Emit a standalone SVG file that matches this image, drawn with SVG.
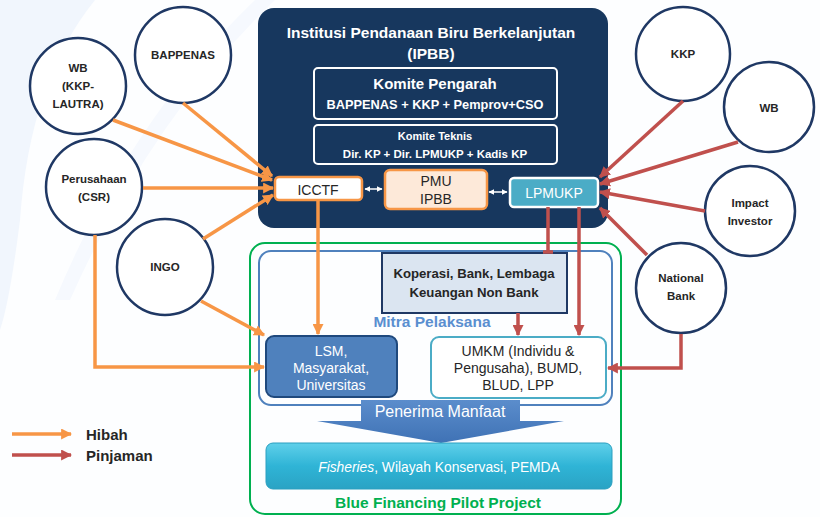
<svg xmlns="http://www.w3.org/2000/svg" width="820" height="517" viewBox="0 0 820 517">
<style>
text{font-family:"Liberation Sans","Noto Sans",Arial,sans-serif;text-anchor:middle}
.c{fill:#fff;stroke:#1f3864;stroke-width:2.5}
.ct{font-size:11.5px;font-weight:bold;fill:#262626}
.wt{fill:#fff;font-weight:bold}
.o{fill:none;stroke:#f79646;stroke-width:3.5}
.r{fill:none;stroke:#c0504d;stroke-width:3.5}
.dk{fill:#262626}
</style>
<defs>
<marker id="ao" viewBox="0 0 10 10" refX="9" refY="5" markerWidth="11" markerHeight="11" markerUnits="userSpaceOnUse" orient="auto"><path d="M0,0L10,5L0,10z" fill="#f79646"/></marker>
<marker id="ar" viewBox="0 0 10 10" refX="9" refY="5" markerWidth="11" markerHeight="11" markerUnits="userSpaceOnUse" orient="auto"><path d="M0,0L10,5L0,10z" fill="#c0504d"/></marker>
<marker id="aw" viewBox="0 0 10 10" refX="9" refY="5" markerWidth="6" markerHeight="6" markerUnits="userSpaceOnUse" orient="auto-start-reverse"><path d="M0,0L10,5L0,10z" fill="#fff"/></marker>
<linearGradient id="gf" x1="0" y1="0" x2="0" y2="1"><stop offset="0" stop-color="#5fd0ea"/><stop offset="0.5" stop-color="#2fb4d6"/><stop offset="1" stop-color="#2aa3c4"/></linearGradient>
<linearGradient id="gp" x1="0" y1="0" x2="0" y2="1"><stop offset="0" stop-color="#5b8dcc"/><stop offset="1" stop-color="#3f72b5"/></linearGradient>
</defs>
<rect width="820" height="517" fill="#fdfeff"/>
<path d="M0,0 L95,0 Q30,80 20,220 Q10,300 0,330 Z" fill="#f1f6fd"/>
<path d="M255,0 L275,0 Q150,120 70,300 L55,300 Q130,120 255,0Z" fill="#f6f9fe"/>

<g id="ipbb">
<rect x="258" y="8" width="350" height="220" rx="16" fill="#17375e"/>
<text x="431" y="38" class="wt" font-size="15.5">Institusi Pendanaan Biru Berkelanjutan</text>
<text x="431" y="59" class="wt" font-size="15.5">(IPBB)</text>
</g>
<g id="komite-pengarah">
<rect x="314" y="68" width="243" height="51" rx="4" fill="none" stroke="#fff" stroke-width="2"/>
<text x="435" y="89" class="wt" font-size="15">Komite Pengarah</text>
<text x="435" y="109" class="wt" font-size="12.8">BAPPENAS + KKP + Pemprov+CSO</text>
</g>
<g id="komite-teknis">
<rect x="314" y="125" width="243" height="39" rx="4" fill="none" stroke="#fff" stroke-width="2"/>
<text x="435" y="140" class="wt" font-size="11">Komite Teknis</text>
<text x="435" y="158" class="wt" font-size="11.5">Dir. KP + Dir. LPMUKP + Kadis KP</text>
</g>
<g id="icctf">
<rect x="275" y="177" width="87" height="23" rx="4" fill="#fff" stroke="#f79646" stroke-width="2.5"/>
<text x="318" y="195" class="dk" font-size="14">ICCTF</text>
</g>
<g id="pmu">
<rect x="385" y="170" width="102" height="39" rx="5" fill="#fde9d9" stroke="#f79646" stroke-width="2.5"/>
<text x="436" y="186" class="dk" font-size="14">PMU</text>
<text x="436" y="204" class="dk" font-size="14">IPBB</text>
</g>
<g id="lpmukp">
<rect x="510" y="178" width="88" height="29" rx="4" fill="#4bacc6" stroke="#fff" stroke-width="2.5"/>
<text x="554" y="198" fill="#fff" font-size="14">LPMUKP</text>
</g>

<g id="pilot">
<rect x="250" y="243" width="371" height="271" rx="15" fill="none" stroke="#00b050" stroke-width="2"/>
<text x="438" y="508" fill="#00b050" font-size="15.5" font-weight="bold">Blue Financing Pilot Project</text>
</g>
<g id="mitra">
<rect x="259" y="251" width="353" height="154" rx="12" fill="none" stroke="#4f81bd" stroke-width="2"/>
<text x="432" y="327" fill="#5a8fd0" font-size="15.5" font-weight="bold">Mitra Pelaksana</text>
</g>
<g id="koperasi">
<rect x="382" y="253" width="185" height="60" fill="#dbe5f1" stroke="#1f3864" stroke-width="2"/>
<text x="474" y="278" class="dk" font-size="13.2" font-weight="bold">Koperasi, Bank, Lembaga</text>
<text x="474" y="297" class="dk" font-size="13.2" font-weight="bold">Keuangan Non Bank</text>
</g>
<g id="lsm">
<rect x="266" y="336" width="131" height="61" rx="8" fill="#4f81bd" stroke="#1f497d" stroke-width="2"/>
<text x="331" y="356" fill="#fff" font-size="14">LSM,</text>
<text x="331" y="373" fill="#fff" font-size="14">Masyarakat,</text>
<text x="331" y="390" fill="#fff" font-size="14">Universitas</text>
</g>
<g id="umkm">
<rect x="431" y="337" width="175" height="61" rx="8" fill="#fff" stroke="#4bacc6" stroke-width="2"/>
<text x="518" y="356" class="dk" font-size="14">UMKM (Individu &amp;</text>
<text x="518" y="373" class="dk" font-size="14">Pengusaha), BUMD,</text>
<text x="518" y="390" class="dk" font-size="14">BLUD, LPP</text>
</g>
<g id="penerima">
<path d="M361,400 H520 V421 H564 L441,443 L317,421 H361 Z" fill="url(#gp)"/>
<text x="440" y="417" fill="#fff" font-size="16">Penerima Manfaat</text>
</g>
<g id="fisheries">
<rect x="266" y="443" width="346" height="46" rx="7" fill="url(#gf)" stroke="#2a9fc0" stroke-width="1"/>
<text x="439" y="472" fill="#fff" font-size="13.8"><tspan font-style="italic">Fisheries</tspan>, Wilayah Konservasi, PEMDA</text>
</g>

<g id="wb-lautra"><circle cx="78" cy="86" r="48" class="c"/>
<text x="78" y="72" class="ct">WB</text><text x="78" y="90" class="ct">(KKP-</text><text x="78" y="108" class="ct">LAUTRA)</text></g>
<g id="bappenas"><circle cx="183" cy="55" r="48" class="c"/><text x="183" y="59" class="ct">BAPPENAS</text></g>
<g id="perusahaan"><circle cx="94" cy="187" r="48" class="c"/>
<text x="94" y="183" class="ct">Perusahaan</text><text x="94" y="201" class="ct">(CSR)</text></g>
<g id="ingo"><circle cx="165" cy="267" r="48" class="c"/><text x="165" y="271" class="ct">INGO</text></g>
<g id="kkp"><circle cx="683" cy="54" r="47" class="c"/><text x="683" y="58" class="ct">KKP</text></g>
<g id="wb"><circle cx="769" cy="107" r="45" class="c"/><text x="769" y="112" class="ct" font-size="14">WB</text></g>
<g id="impact"><circle cx="750" cy="211" r="45" class="c"/>
<text x="750" y="207" class="ct">Impact</text><text x="750" y="225" class="ct">Investor</text></g>
<g id="national-bank"><circle cx="681" cy="288" r="45" class="c"/>
<text x="681" y="282" class="ct">National</text><text x="681" y="300" class="ct">Bank</text></g>

<g id="connectors">
<path class="o" d="M113,120 L272,180" marker-end="url(#ao)"/>
<path class="o" d="M183,103 L272,176" marker-end="url(#ao)"/>
<path class="o" d="M143,188 L273,188" marker-end="url(#ao)"/>
<path class="o" d="M203,239 L273,195" marker-end="url(#ao)"/>
<path class="o" d="M201,301 L264,335" marker-end="url(#ao)"/>
<path class="o" d="M95,235 V367 H264" marker-end="url(#ao)"/>
<path class="o" d="M318,200 V334" marker-end="url(#ao)"/>
<path class="r" d="M683,101 L600,177" marker-end="url(#ar)"/>
<path class="r" d="M738,142 L600,184" marker-end="url(#ar)"/>
<path class="r" d="M705,211 L600,192" marker-end="url(#ar)"/>
<path class="r" d="M647,255 L600,208" marker-end="url(#ar)"/>
<path class="r" d="M681,334 V368 H608" marker-end="url(#ar)"/>
<path class="r" d="M548,207 V252 M543,252 H553"/>
<path class="r" d="M579,207 V335" marker-end="url(#ar)"/>
<path class="r" d="M518,313 V335" marker-end="url(#ar)"/>
<path d="M365,189 H382" stroke="#fff" stroke-width="1.5" marker-start="url(#aw)" marker-end="url(#aw)"/>
<path d="M489,192 H507" stroke="#fff" stroke-width="1.5" marker-start="url(#aw)" marker-end="url(#aw)"/>
</g>

<g id="legend">
<path class="o" d="M12,434 H71" marker-end="url(#ao)"/>
<path class="r" d="M12,455 H71" marker-end="url(#ar)"/>
<text x="86" y="440" class="dk" font-size="15" font-weight="bold" style="text-anchor:start">Hibah</text>
<text x="86" y="461" class="dk" font-size="15" font-weight="bold" style="text-anchor:start">Pinjaman</text>
</g>
</svg>
